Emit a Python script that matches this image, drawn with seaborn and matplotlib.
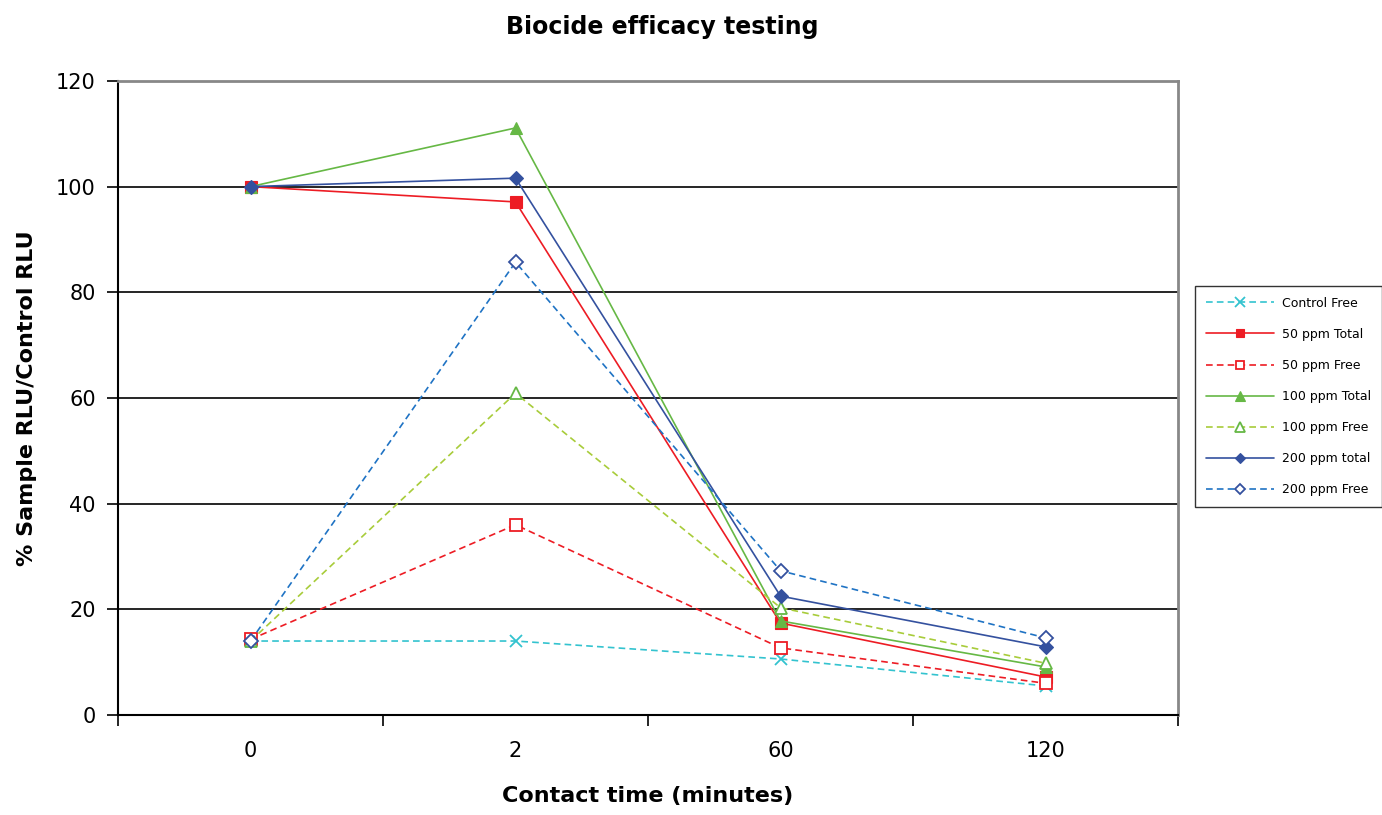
import numpy as np
import pandas as pd
import matplotlib
matplotlib.use("Agg")
import matplotlib.pyplot as plt
import seaborn as sns
from matplotlib.ticker import FixedLocator, NullFormatter

sns.set_style("white")
plt.rcParams['font.family'] = ['DejaVu Sans']
plt.rcParams['text.color'] = 'black'
plt.rcParams['axes.labelcolor'] = 'black'
plt.rcParams['xtick.color'] = 'black'
plt.rcParams['ytick.color'] = 'black'

# Dados
tempos = ["0", "2", "60", "120"]
control_free = [14.0, 14.0, 10.6, 5.5]
ppm50_total = [100.0, 97.1, 17.4, 7.2]
ppm50_free = [14.3, 36.0, 12.7, 6.0]
ppm100_total = [100.0, 111.1, 17.8, 9.1]
ppm100_free = [14.0, 60.9, 20.3, 9.8]
ppm200_total = [100.0, 101.6, 22.5, 12.9]
ppm200_free = [14.0, 85.7, 27.3, 14.6]

series = [
    ("Control Free", control_free, "#33C3CF", (0, (4, 2.5)), "x", "#33C3CF", "#33C3CF"),
    ("50 ppm Total", ppm50_total, "#ED1C24", "-", "s", "#ED1C24", "#ED1C24"),
    ("50 ppm Free", ppm50_free, "#ED1C24", (0, (4, 2.5)), "s", "white", "#ED1C24"),
    ("100 ppm Total", ppm100_total, "#66B845", "-", "^", "#66B845", "#66B845"),
    ("100 ppm Free", ppm100_free, "#A8CC3A", (0, (4, 2.5)), "^", "white", "#66B845"),
    ("200 ppm total", ppm200_total, "#34519F", "-", "D", "#34519F", "#34519F"),
    ("200 ppm Free", ppm200_free, "#1F73C4", (0, (4, 2.5)), "D", "white", "#34519F"),
]

fig = plt.figure(figsize=(13.82, 8.15), dpi=100)
ax = fig.add_axes([0.0854, 0.1227, 0.767, 0.778])

x_pos = np.arange(len(tempos))
for nome, valores, cor, estilo, marcador, face, borda in series:
    tam = {"x": 9, "s": 8, "^": 9, "D": 7}[marcador]
    sns.lineplot(x=x_pos, y=valores, ax=ax, color=cor, linestyle=estilo, linewidth=1.2,
                 marker=marcador, markersize=tam, markerfacecolor=face,
                 markeredgecolor=borda, markeredgewidth=1.3 if face == "white" or marcador == "x" else 0.8,
                 label=nome)

ax.set_xlim(-0.5, 3.5)
ax.set_ylim(0, 120)
ax.set_yticks(np.arange(0, 121, 20))
ax.set_xticks(x_pos)
ax.set_xticklabels(tempos)
ax.xaxis.set_minor_locator(FixedLocator([-0.5, 0.5, 1.5, 2.5, 3.5]))
ax.xaxis.set_minor_formatter(NullFormatter())
ax.tick_params(axis="x", which="both", bottom=True)
ax.tick_params(axis="y", which="both", left=True)
ax.tick_params(axis="x", which="major", length=0, labelsize=15, pad=19)
ax.tick_params(axis="x", which="minor", length=8, width=1.2, color="black", direction="out")
ax.tick_params(axis="y", which="major", length=8, width=1.2, color="black", direction="out", labelsize=15, pad=8)

for v in [20, 40, 60, 80, 100]:
    ax.axhline(v, color="black", linewidth=1.2, zorder=0)

for lado in ["left", "bottom"]:
    ax.spines[lado].set_color("black")
    ax.spines[lado].set_linewidth(1.5)
for lado in ["top", "right"]:
    ax.spines[lado].set_color("#888888")
    ax.spines[lado].set_linewidth(2.0)

ax.set_xlabel("Contact time (minutes)", fontsize=16, fontweight="bold", labelpad=18)
ax.set_ylabel("% Sample RLU/Control RLU", fontsize=16, fontweight="bold", labelpad=14)
fig.suptitle("Biocide efficacy testing", fontsize=17, fontweight="bold", x=0.479, y=0.982)

ax.get_legend().remove()
leg = fig.legend(loc="upper left", bbox_to_anchor=(0.8647, 0.649), borderaxespad=0,
                 fontsize=9, frameon=True, fancybox=False, edgecolor="black",
                 labelspacing=1.45, handlelength=5.5, borderpad=0.85,
                 handletextpad=0.6, markerscale=0.8)
leg.get_frame().set_linewidth(1.0)

fig.savefig("out.png", dpi=100)
